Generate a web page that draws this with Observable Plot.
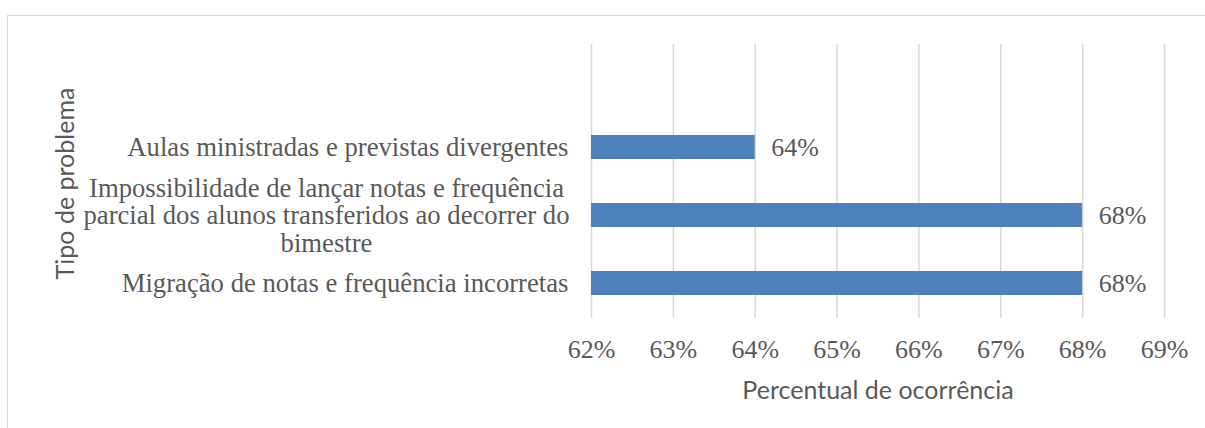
<!DOCTYPE html>
<html>
<head>
<meta charset="utf-8">
<script src="https://cdn.jsdelivr.net/npm/d3@7"></script>
<script src="https://cdn.jsdelivr.net/npm/@observablehq/plot@0.6"></script>
<style>
  html, body { margin: 0; padding: 0; background: #fff; overflow: hidden; }
  #wrap { position: relative; width: 1205px; height: 428px; }
  #border { position: absolute; left: 7px; top: 15px; width: 1300px; height: 600px; border: 1px solid #d9d9d9; box-sizing: border-box; }
  #chart { position: absolute; left: 0; top: 0; }
  svg { overflow: visible; }
  .serif text, text.serif, .serif { font-family: "Liberation Serif", "Times New Roman", serif; }
  .sans text, .sans { font-family: Lato, "Open Sans", sans-serif; }
</style>
</head>
<body>
<div id="wrap"><div id="border"></div><div id="chart"></div></div>
<script>
const categories = [
  "Aulas ministradas e previstas divergentes",
  "Impossibilidade de lançar notas e frequência\nparcial dos alunos transferidos ao decorrer do\nbimestre",
  "Migração de notas e frequência incorretas"
];
const values = [0.64, 0.68, 0.68];
const valueLabels = ["64%", "68%", "68%"];
const xTicks = [0.62, 0.63, 0.64, 0.65, 0.66, 0.67, 0.68, 0.69];
const xTickLabels = ["62%", "63%", "64%", "65%", "66%", "67%", "68%", "69%"];
const xTitle = "Percentual de ocorrência";
const yTitle = "Tipo de problema";

const rows = categories.map((c, i) => ({category: c, value: values[i], label: valueLabels[i], multi: c.includes("\n")}));

const textColor = "#595959";
const fs = 26;
const fsCat = 26.7;

const chart = Plot.plot({
  width: 1205,
  height: 428,
  marginLeft: 591,
  marginRight: 41,
  marginTop: 44,
  marginBottom: 110,
  style: {background: "transparent"},
  x: {domain: [0.62, 0.69]},
  y: {domain: ["", ...categories], paddingInner: 0.65, paddingOuter: 0.325, axis: null},
  marks: [
    Plot.gridX(xTicks, {stroke: "#d9d9d9", strokeOpacity: 1, strokeWidth: 1.5}),
    Plot.barX(rows, {x1: () => 0.62, x2: "value", y: "category", fill: "#4f81bd"}),
    Plot.text(rows, {x: "value", y: "category", text: "label", dx: 16, textAnchor: "start", fontSize: fs, fill: textColor, className: "serif"}),
    Plot.axisX(xTicks, {tickFormat: (d, i) => xTickLabels[i], tickSize: 0, tickPadding: 21, fontSize: fs, fill: textColor, className: "serif", label: null}),
    Plot.text(rows.filter(d => !d.multi), {y: "category", text: "category", frameAnchor: "left", dx: -23, textAnchor: "end", fontSize: fsCat, fill: textColor, className: "serif"}),
    Plot.text(rows.filter(d => d.multi), {y: "category", text: "category", frameAnchor: "left", dx: -265, textAnchor: "middle", lineAnchor: "middle", lineHeight: 1.04, fontSize: fsCat, fill: textColor, className: "serif"}),
    Plot.text([xTitle], {text: d => d, frameAnchor: "bottom", dy: 72, textAnchor: "middle", lineAnchor: "middle", fontSize: 25, fill: textColor, className: "sans"}),
    Plot.text([yTitle], {text: d => d, frameAnchor: "left", dx: -526, dy: 2, rotate: -90, textAnchor: "middle", lineAnchor: "middle", fontSize: 25, fill: textColor, className: "sans"})
  ]
});
document.getElementById("chart").appendChild(chart);
</script>
</body>
</html>
